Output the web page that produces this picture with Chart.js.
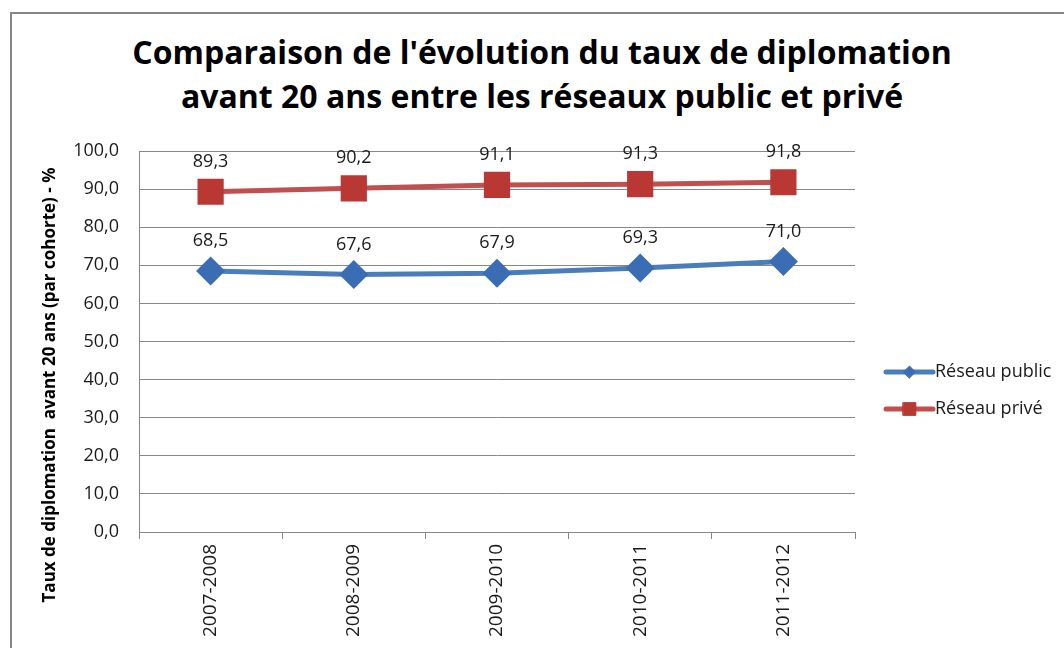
<!DOCTYPE html>
<html lang="fr">
  <head>
    <meta charset="UTF-8" />
    <title>Taux de diplomation avant 20 ans</title>
    <script src="https://cdn.jsdelivr.net/npm/chart.js"></script>
    <style>
      html, body { margin: 0; padding: 0; background: #fff; }
      #frame {
        position: relative;
        width: 1064px;
        height: 648px;
        overflow: hidden;
        font-family: "Open Sans", sans-serif;
      }
      #border {
        position: absolute;
        left: 10px;
        top: 12px;
        width: 1060px;
        height: 700px;
        border-left: 2px solid #858585;
        border-top: 2px solid #858585;
      }
      #title {
        position: absolute;
        left: 20px;
        width: 1044px;
        top: 30px;
        margin: 0;
        text-align: center;
        font-size: 32px;
        line-height: 44px;
        font-weight: 700;
        color: #000;
      }
      #myChart { position: absolute; left: 0; top: 0; }
    </style>
  </head>
  <body>
    <div id="frame">
      <div id="border"></div>
      <!-- Header -->
      <h1 id="title">
        Comparaison de l'évolution du taux de diplomation<br />avant 20 ans
        entre les réseaux public et privé
      </h1>
      <canvas id="myChart" width="1064" height="648"></canvas>
    </div>

    <script>
      const years = ["2007-2008", "2008-2009", "2009-2010", "2010-2011", "2011-2012"];
      const publicRates = [68.5, 67.6, 67.9, 69.3, 71.0];
      const privateRates = [89.3, 90.2, 91.1, 91.3, 91.8];
      const seriesNames = ["Réseau public", "Réseau privé"];
      const yTitle = "Taux de diplomation  avant 20 ans (par cohorte) - %";

      const fmt = (v) => v.toFixed(1).replace(".", ",");
      const gridColor = "#878787";
      const textColor = "#1a1a1a";

      // data labels above each point
      const valueLabels = {
        id: "valueLabels",
        afterDatasetsDraw(chart) {
          const ctx = chart.ctx;
          ctx.save();
          ctx.font = "18px 'Open Sans'";
          ctx.fillStyle = textColor;
          ctx.textAlign = "center";
          ctx.textBaseline = "middle";
          chart.data.datasets.forEach((ds, i) => {
            chart.getDatasetMeta(i).data.forEach((pt, j) => {
              ctx.fillText(fmt(ds.data[j]), pt.x, pt.y - 30);
            });
          });
          ctx.restore();
        },
      };

      // rotated y axis title, centred like the original
      const axisTitle = {
        id: "axisTitle",
        afterDraw(chart) {
          const ctx = chart.ctx;
          ctx.save();
          ctx.translate(50, 385);
          ctx.rotate(-Math.PI / 2);
          ctx.font = "bold 17px 'Open Sans'";
          ctx.fillStyle = "#000";
          ctx.textAlign = "center";
          ctx.textBaseline = "middle";
          ctx.fillText(yTitle, 0, 0);
          ctx.restore();
        },
      };

      // legend: line with marker, text on the right
      const legendMarkerRadius = [6, 9];
      const lineLegend = {
        id: "lineLegend",
        afterDraw(chart) {
          const ctx = chart.ctx;
          const x0 = 886, x1 = 933;
          chart.data.datasets.forEach((ds, i) => {
            const y = 372 + i * 37;
            ctx.save();
            ctx.strokeStyle = ds.borderColor;
            ctx.lineWidth = 5;
            ctx.lineCap = "round";
            ctx.beginPath();
            ctx.moveTo(x0, y);
            ctx.lineTo(x1, y);
            ctx.stroke();
            ctx.fillStyle = ds.pointBackgroundColor;
            ctx.strokeStyle = ds.pointBorderColor;
            ctx.lineWidth = 1;
            Chart.helpers.drawPoint(
              ctx,
              { pointStyle: ds.pointStyle, radius: legendMarkerRadius[i], rotation: 0, borderWidth: 1 },
              (x0 + x1) / 2,
              y
            );
            ctx.font = "18px 'Open Sans'";
            ctx.fillStyle = textColor;
            ctx.textAlign = "left";
            ctx.textBaseline = "middle";
            ctx.fillText(ds.label, x1 + 2, y);
            ctx.restore();
          });
        },
      };

      const ctx = document.getElementById("myChart").getContext("2d");
      const myChart = new Chart(ctx, {
        type: "line",
        data: {
          labels: years,
          datasets: [
            {
              label: seriesNames[0],
              data: publicRates,
              borderColor: "#4A7EBB",
              borderWidth: 5,
              pointStyle: "rectRot",
              pointRadius: 11,
              pointHoverRadius: 11,
              pointBackgroundColor: "#3A6DB3",
              pointBorderColor: "#3A6DB3",
              tension: 0,
            },
            {
              label: seriesNames[1],
              data: privateRates,
              borderColor: "#C0504D",
              borderWidth: 5,
              pointStyle: "rect",
              pointRadius: 15,
              pointHoverRadius: 15,
              pointBackgroundColor: "#B93834",
              pointBorderColor: "#B93834",
              tension: 0,
            },
          ],
        },
        options: {
          responsive: false,
          animation: false,
          layout: { padding: { top: 151, right: 209, bottom: 0, left: 0 } },
          plugins: {
            legend: { display: false },
            title: { display: false },
            tooltip: { enabled: false },
          },
          scales: {
            x: {
              offset: true,
              grid: {
                offset: true,
                drawOnChartArea: false,
                drawTicks: true,
                tickLength: 7,
                color: gridColor,
              },
              border: { color: gridColor, width: 1 },
              ticks: {
                minRotation: 90,
                maxRotation: 90,
                padding: 5,
                color: textColor,
                font: { family: "'Open Sans'", size: 19 },
              },
              afterFit: (s) => { s.height = 116; },
            },
            y: {
              min: 0,
              max: 100,
              ticks: {
                stepSize: 10,
                padding: 20,
                color: textColor,
                font: { family: "'Open Sans'", size: 18 },
                callback: (v) => fmt(v),
              },
              grid: { color: gridColor, drawTicks: false },
              border: { color: gridColor, width: 1 },
              afterFit: (s) => { s.width = 139; },
            },
          },
        },
        plugins: [valueLabels, axisTitle, lineLegend],
      });
    </script>
  </body>
</html>
